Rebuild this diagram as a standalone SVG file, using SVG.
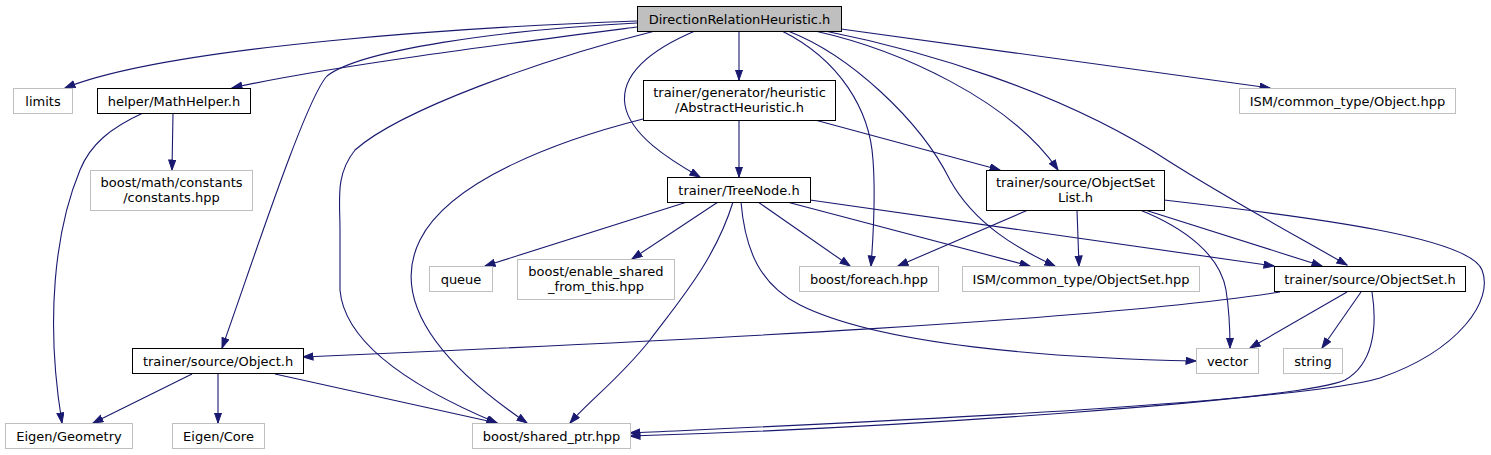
<svg xmlns="http://www.w3.org/2000/svg" width="1491" height="455" viewBox="0 0 1491 455">
<defs>
<style>
.n rect{fill:#fff;stroke:#000;stroke-width:1}
.x rect{fill:#fff;stroke:#bfbfbf;stroke-width:1}
.r rect{fill:#bfbfbf;stroke:#000;stroke-width:1}
text{font-family:"DejaVu Sans",sans-serif;font-size:13px;fill:#000;text-anchor:middle}
#edges path{fill:none;stroke:#191970;stroke-width:1.1;marker-end:url(#ah)}
</style>
<marker id="ah" markerUnits="userSpaceOnUse" markerWidth="12" markerHeight="9" refX="10.5" refY="4" orient="auto">
<path d="M0.5,0.5 L10.5,4 L0.5,7.5 z" fill="#191970" stroke="#191970" stroke-width="1"/>
</marker>
</defs>
<rect width="1491" height="455" fill="#fff"/>
<g id="edges">
<path d="M637,21 C470,27 170,46 65,88"/>
<path d="M637,27 C520,42 330,66 232,88"/>
<path d="M637,23 C500,30 360,50 327,76 C305,100 250,270 222,348"/>
<path d="M655,31 C540,60 400,110 355,150 C335,175 340,200 340,230 L340,290 C345,350 430,395 497,423"/>
<path d="M739,31 L739,80"/>
<path d="M695,31 C650,50 620,75 625,105 C630,135 670,160 700,177"/>
<path d="M782,31 C840,60 870,110 873,160 C876,200 873,240 871,266"/>
<path d="M788,31 C850,55 920,120 950,180 C975,225 1020,250 1055,266"/>
<path d="M815,31 C900,50 1010,100 1058,170"/>
<path d="M825,31 C920,50 1060,90 1170,162 C1230,200 1300,238 1347,265"/>
<path d="M841,29 L1270,88"/>
<path d="M739,120 L739,177"/>
<path d="M815,120 L1000,170"/>
<path d="M643,119 C560,140 450,180 420,240 C395,290 420,350 527,423"/>
<path d="M687,202 L485,266"/>
<path d="M718,202 L632,259"/>
<path d="M733,202 C715,260 680,300 650,340 C620,378 590,400 570,423"/>
<path d="M741,202 C745,250 760,285 800,305 C880,345 1050,358 1196,361"/>
<path d="M758,202 L850,266"/>
<path d="M787,202 L1030,266"/>
<path d="M810,200 L1274,266"/>
<path d="M1028,210 L898,266"/>
<path d="M1077,210 L1079,266"/>
<path d="M1140,210 C1185,228 1220,255 1226,290 C1230,315 1230,335 1230,348"/>
<path d="M1145,210 L1322,266"/>
<path d="M1164,200 C1320,218 1470,238 1482,270 C1494,300 1460,350 1380,378 C1290,405 800,425 630,433"/>
<path d="M1280,292 C1100,320 700,340 303,357"/>
<path d="M1347,292 L1250,348"/>
<path d="M1361,292 L1322,348"/>
<path d="M1372,292 C1378,330 1372,365 1345,380 C1300,400 900,428 630,436"/>
<path d="M173,113 L172,170"/>
<path d="M143,113 C110,128 90,145 80,170 C55,230 45,320 62,423"/>
<path d="M192,374 L93,423"/>
<path d="M218,374 L218,423"/>
<path d="M275,374 L497,423"/>
</g>
<g id="node_root" class="r"><rect x="637.5" y="6.5" width="204" height="25"/><text x="739.5" y="23.5">DirectionRelationHeuristic.h</text></g>
<g id="node_limits" class="x"><rect x="13.5" y="88.5" width="59" height="25"/><text x="43" y="105.5">limits</text></g>
<g id="node_mathhelper" class="n"><rect x="97.5" y="88.5" width="153" height="25"/><text x="174" y="105.5">helper/MathHelper.h</text></g>
<g id="node_objecthpp" class="x"><rect x="1239.5" y="88.5" width="216" height="25"/><text x="1347.5" y="105.5">ISM/common_type/Object.hpp</text></g>
<g id="node_abstract" class="n"><rect x="643.5" y="80.5" width="192" height="40"/><text x="739.5" y="97">trainer/generator/heuristic</text><text x="739.5" y="111.5">/AbstractHeuristic.h</text></g>
<g id="node_constants" class="x"><rect x="90.5" y="170.5" width="162" height="40"/><text x="171.5" y="187">boost/math/constants</text><text x="171.5" y="201.5">/constants.hpp</text></g>
<g id="node_treenode" class="n"><rect x="667.5" y="177.5" width="143" height="25"/><text x="739" y="194.5">trainer/TreeNode.h</text></g>
<g id="node_objectsetlist" class="n"><rect x="986.5" y="170.5" width="178" height="40"/><text x="1075.5" y="187">trainer/source/ObjectSet</text><text x="1075.5" y="201.5">List.h</text></g>
<g id="node_queue" class="x"><rect x="429.5" y="266.5" width="63" height="25"/><text x="461" y="283.5">queue</text></g>
<g id="node_enable" class="x"><rect x="517.5" y="259.5" width="157" height="40"/><text x="596" y="276">boost/enable_shared</text><text x="596" y="290.5">_from_this.hpp</text></g>
<g id="node_foreach" class="x"><rect x="799.5" y="266.5" width="139" height="25"/><text x="869" y="283.5">boost/foreach.hpp</text></g>
<g id="node_objectsethpp" class="x"><rect x="962.5" y="266.5" width="237" height="25"/><text x="1081" y="283.5">ISM/common_type/ObjectSet.hpp</text></g>
<g id="node_objectset" class="n"><rect x="1274.5" y="266.5" width="191" height="25"/><text x="1370" y="283.5">trainer/source/ObjectSet.h</text></g>
<g id="node_object" class="n"><rect x="132.5" y="348.5" width="171" height="25"/><text x="218" y="365.5">trainer/source/Object.h</text></g>
<g id="node_vector" class="x"><rect x="1196.5" y="348.5" width="62" height="25"/><text x="1227.5" y="365.5">vector</text></g>
<g id="node_string" class="x"><rect x="1283.5" y="348.5" width="59" height="25"/><text x="1313" y="365.5">string</text></g>
<g id="node_geometry" class="x"><rect x="5.5" y="423.5" width="127" height="25"/><text x="69" y="440.5">Eigen/Geometry</text></g>
<g id="node_core" class="x"><rect x="172.5" y="423.5" width="92" height="25"/><text x="218.5" y="440.5">Eigen/Core</text></g>
<g id="node_sharedptr" class="x"><rect x="472.5" y="423.5" width="158" height="25"/><text x="551.5" y="440.5">boost/shared_ptr.hpp</text></g>
</svg>
